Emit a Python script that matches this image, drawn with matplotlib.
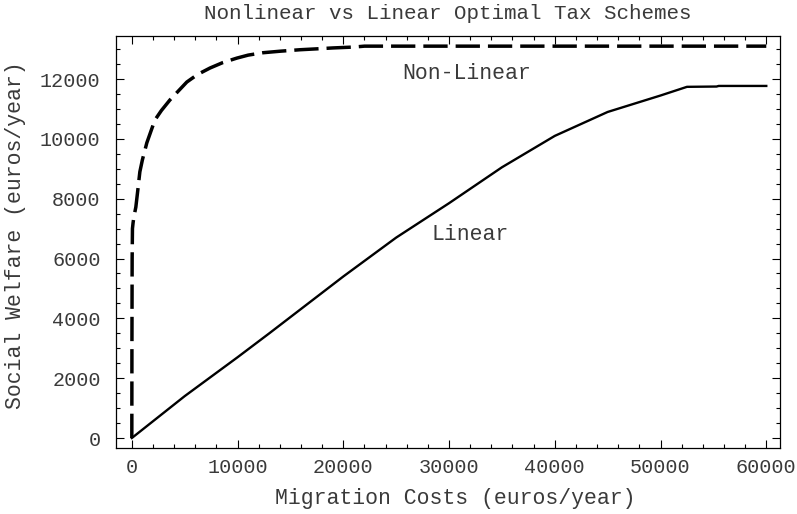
import numpy as np
import matplotlib
matplotlib.use("Agg")
import matplotlib.pyplot as plt
from matplotlib.ticker import MultipleLocator

# Values
nonlin_cost = [0, 10, 30, 60, 120, 200, 380, 570, 760, 1000, 1420, 2180, 2800,
               3600, 4400, 5200, 6200, 7400, 8600, 9930, 11000, 12400, 14000,
               15900, 17500, 19000, 21000, 22000, 30000, 40000, 50000, 60000]
nonlin_welfare = [0, 3000, 6000, 7000, 7200, 7400, 7720, 8300, 8900, 9300, 9870,
                  10630, 10950, 11300, 11600, 11900, 12150, 12370, 12550, 12700,
                  12800, 12880, 12930, 12980, 13010, 13040, 13070, 13100, 13100,
                  13100, 13100, 13100]

lin_cost = [0, 5000, 10000, 13000, 20000, 25000, 30000, 35000, 40000, 45000,
            50000, 52500, 55300, 55500, 60000]
lin_welfare = [0, 1400, 2700, 3500, 5400, 6700, 7850, 9050, 10100, 10900,
               11450, 11740, 11750, 11770, 11770]

title = "Nonlinear vs Linear Optimal Tax Schemes"
xlabel = "Migration Costs (euros/year)"
ylabel = "Social Welfare (euros/year)"

plt.rcParams["font.family"] = ["Liberation Mono", "DejaVu Sans Mono"]
txt = "#3a3a3a"

fig = plt.figure(figsize=(7.97, 5.14), dpi=100)
ax = fig.add_axes([0.1455, 0.1284, 0.8332, 0.8016])

ax.plot(nonlin_cost, nonlin_welfare, color="black", lw=2.5,
        linestyle=(0, (7, 2.3)), solid_capstyle="butt")
ax.plot(lin_cost, lin_welfare, color="black", lw=1.7)

ax.text(31700, 12200, "Non-Linear", ha="center", va="center", fontsize=15.5,
        color=txt)
ax.text(32000, 6790, "Linear", ha="center", va="center", fontsize=15.5,
        color=txt)

ax.set_xlim(-1500, 61300)
ax.set_ylim(-334, 13440)

ax.xaxis.set_major_locator(MultipleLocator(10000))
ax.xaxis.set_minor_locator(MultipleLocator(2000))
ax.yaxis.set_major_locator(MultipleLocator(2000))
ax.yaxis.set_minor_locator(MultipleLocator(500))

ax.tick_params(which="both", direction="in", top=True, right=True,
               colors="black", labelcolor=txt, labelsize=14.5, width=0.8)
ax.tick_params(which="major", length=6)
ax.tick_params(which="minor", length=3)
ax.tick_params(axis="y", pad=11)
ax.tick_params(axis="x", pad=7)
for s in ax.spines.values():
    s.set_linewidth(0.9)

ax.set_title(title, fontsize=15, color=txt, pad=12)
ax.set_xlabel(xlabel, fontsize=15.5, color=txt, labelpad=8)
ax.set_ylabel(ylabel, fontsize=15.5, color=txt, labelpad=10)
ax.xaxis.label.set_x(0.5105)
ax.yaxis.label.set_y(0.517)

fig.savefig("out.png", dpi=100)
